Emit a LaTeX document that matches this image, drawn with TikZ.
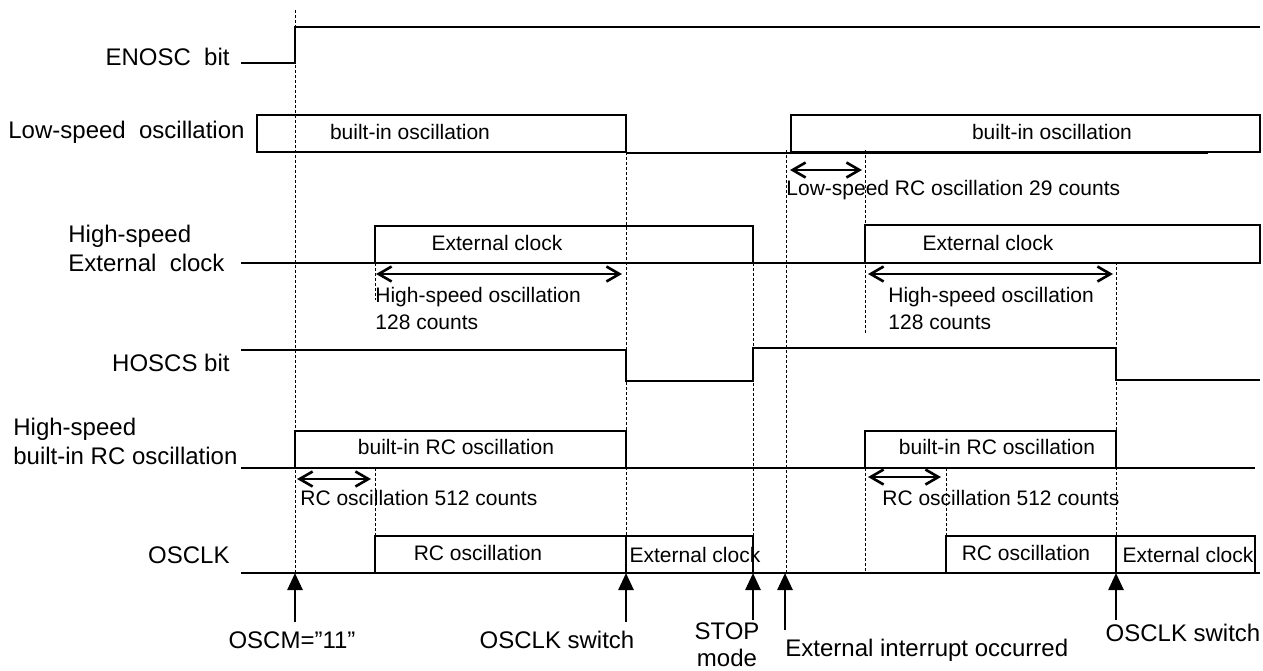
\documentclass[tikz,border=0pt]{standalone}
\usepackage{fontspec}
\setmainfont{Liberation Sans}
\usetikzlibrary{arrows.meta}

\begin{document}
\begin{tikzpicture}[x=0.5pt, y=-0.5pt,
    wave/.style={line width=0.65pt},
    guide/.style={line width=0.4pt, dash pattern=on 1.5pt off 1pt},
    span/.style={{Straight Barb[length=6.5pt,width=7.5pt]}-{Straight Barb[length=6.5pt,width=7.5pt]}, line width=1.3pt},
    event/.style={-{Triangle[length=8.5pt,width=7.5pt]}, line width=1.3pt},
    sig/.style={font=\fontsize{12}{13.5}\selectfont, inner sep=0pt},
    lbl/.style={font=\fontsize{10.5}{13.5}\selectfont, inner sep=0pt}]
  \useasboundingbox (0,0) rectangle (1263,670);

  % timing guides
  \draw[guide] (295,10) -- (295,573);
  \draw[guide] (626,152) -- (626,573);
  \draw[guide] (753,263) -- (753,573);
  \draw[guide] (786,150) -- (786,573);
  \draw[guide] (865,150) -- (865,333);
  \draw[guide] (865,468) -- (865,573);
  \draw[guide] (1116,262) -- (1116,573);
  \draw[guide] (375,263) -- (375,300);
  \draw[guide] (375,468) -- (375,536);
  \draw[guide] (946,468) -- (946,536);

  % signal names
  \node[sig, anchor=east] (enosc) at (230,57) {ENOSC~ bit};
  \node[sig, anchor=west] (lso) at (8,132) {Low-speed~ oscillation};
  \node[sig, anchor=west, align=left] (hse) at (68,248) {High-speed\\[1pt]External~ clock};
  \node[sig, anchor=east] (hoscs) at (230,363) {HOSCS bit};
  \node[sig, anchor=west, align=left] (hsrc) at (13,441) {High-speed\\[1pt]built-in RC oscillation};
  \node[sig, anchor=east] (osclk) at (230,555) {OSCLK};

  % ENOSC bit
  \draw[wave] (241,63) -- (295,63) -- (295,27) -- (1260,27);

  % low-speed oscillation
  \draw[wave] (257,115) rectangle (626,152);
  \draw[wave] (626,153) -- (791,153);
  \draw[line width=0.9pt] (791,153) -- (1208,153);
  \draw[wave] (791,115) rectangle (1260,152);
  \node[lbl] (ls1) at (410,132) {built-in oscillation};
  \node[lbl] (ls2) at (1052,132) {built-in oscillation};

  % high-speed external clock
  \draw[wave] (241,263) -- (1260,263);
  \draw[wave] (375,226) rectangle (753,263);
  \draw[wave] (865,225) rectangle (1260,263);
  \node[lbl] (ex1) at (497,243) {External clock};
  \node[lbl] (ex2) at (988,243) {External clock};

  % HOSCS bit
  \draw[wave] (241,350) -- (626,350) -- (626,381) -- (753,381)
    -- (753,348) -- (1116,348) -- (1116,380) -- (1260,380);

  % high-speed built-in RC oscillation
  \draw[wave] (241,468) -- (1255,468);
  \draw[wave] (295,431) rectangle (626,468);
  \draw[wave] (865,431) rectangle (1116,468);
  \node[lbl] (rc1) at (456,447) {built-in RC oscillation};
  \node[lbl] (rc2) at (997,447) {built-in RC oscillation};

  % OSCLK
  \draw[wave] (241,573) -- (1260,573);
  \draw[wave] (375,536) rectangle (626,573);
  \draw[wave] (626,536) rectangle (753,573);
  \draw[wave] (946,536) rectangle (1116,573);
  \draw[wave] (1116,536) rectangle (1255,573);
  \node[lbl] (ck1) at (478,553) {RC oscillation};
  \node[lbl] (ck2) at (695,555) {External clock};
  \node[lbl] (ck3) at (1026,553) {RC oscillation};
  \node[lbl] (ck4) at (1188,555) {External clock};

  % count spans
  \coordinate (lsA) at (790,170);  \coordinate (lsB) at (862,170);
  \coordinate (hsA) at (376,274);  \coordinate (hsB) at (622,274);
  \coordinate (hsC) at (868,274);  \coordinate (hsD) at (1113,274);
  \coordinate (rcA) at (297,479);  \coordinate (rcB) at (371,479);
  \coordinate (rcC) at (868,477);  \coordinate (rcD) at (941,477);
  \draw[span] (lsA) -- (lsB);
  \draw[span] (hsA) -- (hsB);
  \draw[span] (hsC) -- (hsD);
  \draw[span] (rcA) -- (rcB);
  \draw[span] (rcC) -- (rcD);
  \node[lbl, anchor=west] (lsN) at (786,190) {Low-speed RC oscillation 29 counts};
  \node[lbl, anchor=west, align=left] (hsN1) at (375,308) {High-speed oscillation\\128 counts};
  \node[lbl, anchor=west, align=left] (hsN2) at (888,308) {High-speed oscillation\\128 counts};
  \node[lbl, anchor=west] (rcN1) at (300,498) {RC oscillation 512 counts};
  \node[lbl, anchor=west] (rcN2) at (882,498) {RC oscillation 512 counts};

  % events
  \coordinate (t1) at (295,573);  \coordinate (f1) at (295,622);
  \coordinate (t2) at (626,573);  \coordinate (f2) at (626,622);
  \coordinate (t3) at (753,573);  \coordinate (f3) at (753,620);
  \coordinate (t4) at (785,573);  \coordinate (f4) at (785,630);
  \coordinate (t5) at (1116,573); \coordinate (f5) at (1116,620);
  \draw[event] (f1) -- (t1);
  \draw[event] (f2) -- (t2);
  \draw[event] (f3) -- (t3);
  \draw[event] (f4) -- (t4);
  \draw[event] (f5) -- (t5);
  \node[sig] (oscm) at (292,640) {OSCM=”11”};
  \node[sig] (sw1) at (557,640) {OSCLK switch};
  \node[sig, align=center] (stop) at (727,645) {STOP\\mode};
  \node[sig, anchor=west] (irq) at (785,650) {External interrupt occurred};
  \node[sig] (sw2) at (1183,633) {OSCLK switch};
\end{tikzpicture}
\end{document}
